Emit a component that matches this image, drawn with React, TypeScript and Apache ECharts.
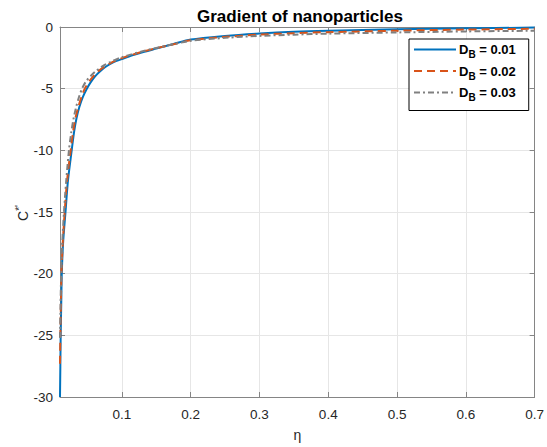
import React, { useEffect, useRef } from "react";
import * as echarts from "echarts";

const seriesNames = ["D_B = 0.01", "D_B = 0.02", "D_B = 0.03"];
const xTicks = [0.1, 0.2, 0.3, 0.4, 0.5, 0.6, 0.7];

const blue: [number, number][] = [
  [0.01, -30], [0.0105, -27.5], [0.011, -25], [0.0118, -22.5], [0.0126, -20],
  [0.0145, -17.5], [0.018, -15], [0.0215, -12.5], [0.027, -10], [0.0305, -8.5],
  [0.034, -7.4], [0.038, -6.5], [0.043, -5.7], [0.049, -5.0], [0.055, -4.45],
  [0.061, -4.0], [0.068, -3.6], [0.077, -3.2], [0.088, -2.85], [0.1, -2.6],
  [0.115, -2.3], [0.13, -2.05], [0.15, -1.75], [0.175, -1.38], [0.2, -1.02],
  [0.25, -0.72], [0.3, -0.52], [0.35, -0.38], [0.4, -0.3], [0.5, -0.19],
  [0.6, -0.11], [0.7, -0.05],
];
const orange: [number, number][] = [
  [0.01, -27.3], [0.0105, -25], [0.0113, -22.5], [0.0121, -20], [0.014, -17.5],
  [0.0168, -15], [0.0202, -12.5], [0.0255, -10], [0.029, -8.5], [0.032, -7.5],
  [0.036, -6.6], [0.041, -5.7], [0.046, -5.0], [0.052, -4.45], [0.058, -4.02],
  [0.065, -3.62], [0.075, -3.2], [0.086, -2.85], [0.1, -2.52], [0.115, -2.25],
  [0.13, -2.0], [0.15, -1.72], [0.175, -1.4], [0.2, -1.08], [0.25, -0.8],
  [0.3, -0.62], [0.35, -0.5], [0.4, -0.42], [0.5, -0.3], [0.6, -0.21], [0.7, -0.14],
];
const gray: [number, number][] = [
  [0.01, -25.2], [0.0108, -22.5], [0.0117, -20], [0.0133, -17.5], [0.0158, -15],
  [0.019, -12.5], [0.023, -10], [0.0265, -8.5], [0.0295, -7.5], [0.033, -6.6],
  [0.0375, -5.7], [0.042, -5.0], [0.048, -4.4], [0.055, -3.95], [0.062, -3.58],
  [0.072, -3.17], [0.084, -2.82], [0.1, -2.45], [0.115, -2.2], [0.13, -1.97],
  [0.15, -1.7], [0.175, -1.4], [0.2, -1.12], [0.25, -0.88], [0.3, -0.72],
  [0.35, -0.62], [0.4, -0.54], [0.5, -0.44], [0.6, -0.36], [0.7, -0.3],
];

const AX = "#858585";
const LBL = "#262626";

export default function App() {
  const ref = useRef<HTMLDivElement>(null);
  useEffect(() => {
    if (!ref.current) return;
    const chart = echarts.init(ref.current, null, { renderer: "svg" });
    const font = "Liberation Sans, Arial, sans-serif";
    const baseX = {
      type: "value",
      min: 0.01,
      max: 0.7,
      axisLine: { show: true, onZero: false, lineStyle: { color: AX, width: 1 } },
      axisTick: { show: true, inside: true, length: 5, customValues: xTicks, lineStyle: { color: AX } },
    };
    const baseY = {
      type: "value",
      min: -30,
      max: 0,
      interval: 5,
      axisLine: { show: true, onZero: false, lineStyle: { color: AX, width: 1 } },
      axisTick: { show: true, inside: true, length: 5, lineStyle: { color: AX } },
    };
    const lineCommon = {
      type: "line",
      showSymbol: false,
      symbol: "none",
      smooth: 0.3,
    };
    chart.setOption({
      animation: false,
      backgroundColor: "#ffffff",
      textStyle: { fontFamily: font },
      title: {
        text: "Gradient of nanoparticles",
        left: 295,
        textAlign: "center",
        top: 3,
        textStyle: { fontFamily: font, fontSize: 17, fontWeight: "bold", color: "#000" },
      },
      grid: { left: 60, right: 12, top: 27, bottom: 47, containLabel: false },
      graphic: [
        {
          type: "text",
          x: 23,
          y: 213,
          rotation: Math.PI / 2,
          style: {
            text: "{c|C}{s|*'}",
            align: "center",
            verticalAlign: "middle",
            fill: LBL,
            font: `14px ${font}`,
            rich: {
              c: { fontSize: 14, fill: LBL, fontFamily: font, lineHeight: 18, verticalAlign: "middle" },
              s: { fontSize: 10, fill: LBL, fontFamily: font, lineHeight: 10, verticalAlign: "top" },
            },
          },
        },
      ],
      xAxis: [
        {
          ...baseX,
          position: "bottom",
          name: "η",
          nameLocation: "middle",
          nameGap: 31,
          nameTextStyle: { fontFamily: font, fontSize: 14, color: LBL },
          axisLabel: {
            customValues: xTicks,
            margin: 10,
            fontSize: 13.5,
            color: LBL,
            fontFamily: font,
            formatter: (v: number) => v.toFixed(1),
          },
          splitLine: { show: true, lineStyle: { color: "#e6e6e6", width: 1 } },
        },
        {
          ...baseX,
          position: "top",
          axisLabel: { show: false },
          splitLine: { show: false },
        },
      ],
      yAxis: [
        {
          ...baseY,
          position: "left",
          axisLabel: { margin: 7, fontSize: 13.5, color: LBL, fontFamily: font },
          splitLine: { show: true, lineStyle: { color: "#e6e6e6", width: 1 } },
        },
        {
          ...baseY,
          position: "right",
          axisLabel: { show: false },
          splitLine: { show: false },
        },
      ],
      legend: {
        orient: "vertical",
        left: 409,
        top: 39,
        padding: [4, 13, 8, 4],
        itemGap: 5,
        itemWidth: 42,
        itemHeight: 14,
        backgroundColor: "#ffffff",
        borderColor: "#000000",
        borderWidth: 1,
        borderRadius: 0,
        itemStyle: { opacity: 0 },
        data: seriesNames,
        formatter: (name: string) => `{b|D}{s|B}{b|${name.slice(3)}}`,
        textStyle: {
          padding: [0, 0, 0, -2],
          rich: {
            b: { fontSize: 13, fontWeight: "bold", color: "#000", fontFamily: font, lineHeight: 20, verticalAlign: "middle" },
            s: { fontSize: 10, fontWeight: "bold", color: "#000", fontFamily: font, lineHeight: 10, verticalAlign: "bottom" },
          },
        },
      },
      series: [
        {
          ...lineCommon,
          name: seriesNames[0],
          data: blue,
          lineStyle: { color: "#0072BD", width: 2 },
          itemStyle: { color: "#0072BD" },
          z: 3,
        },
        {
          ...lineCommon,
          name: seriesNames[1],
          data: orange,
          lineStyle: { color: "#D95319", width: 2, type: [8, 5] },
          itemStyle: { color: "#D95319" },
          z: 4,
        },
        {
          ...lineCommon,
          name: seriesNames[2],
          data: gray,
          lineStyle: { color: "#808080", width: 2, type: [6, 3, 2, 3] },
          itemStyle: { color: "#808080" },
          z: 5,
        },
      ],
    });
    return () => chart.dispose();
  }, []);
  return <div ref={ref} style={{ width: 547, height: 447, position: "absolute", left: 0, top: 0 }} />;
}
